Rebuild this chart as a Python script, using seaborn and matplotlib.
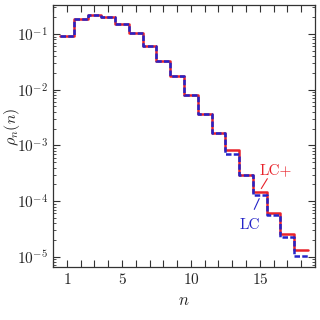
import numpy as np
import matplotlib
matplotlib.use("Agg")
import matplotlib.pyplot as plt
import matplotlib.ticker as mticker
import seaborn as sns

# occupation probabilities rho_n(n)
n = np.arange(1, 19)
lc_plus = [0.093, 0.186, 0.216, 0.199, 0.151, 0.103, 0.060, 0.033, 0.0174,
           0.0082, 0.00367, 0.00168, 0.00082, 0.00030, 1.47e-4, 6.2e-5,
           2.6e-5, 1.3e-5]
lc = [0.093, 0.186, 0.216, 0.199, 0.151, 0.103, 0.060, 0.033, 0.0174,
      0.0082, 0.00367, 0.00168, 0.00070, 0.00030, 1.27e-4, 5.6e-5,
      2.3e-5, 1.02e-5]

sns.set_style("ticks")
plt.rcParams['font.family'] = ['cmr10', 'DejaVu Serif']
plt.rcParams['mathtext.fontset'] = 'cm'
plt.rcParams['axes.formatter.use_mathtext'] = True
plt.rcParams['axes.unicode_minus'] = False

red = '#e8232b'
blue = '#2424c8'

fig = plt.figure(figsize=(3.2, 3.2), dpi=100)
ax = fig.add_axes([0.166, 0.166, 0.818, 0.818])

sns.histplot(x=n, weights=lc_plus, discrete=True, element='step', fill=False,
             color=red, lw=1.8, ax=ax)
sns.histplot(x=n, weights=lc, discrete=True, element='step', fill=False,
             color=blue, lw=1.8, ax=ax)
# dashed style for LC
lines = ax.get_lines()
lines[1].set_linestyle((0, (2.2, 0.9)))

ax.set_yscale('log')
ax.set_xlim(0, 19)
ax.set_ylim(6.6e-6, 0.33)

ax.xaxis.set_major_locator(mticker.FixedLocator([1, 5, 10, 15]))
ax.xaxis.set_minor_locator(mticker.MultipleLocator(1))
ax.yaxis.set_major_locator(mticker.LogLocator(base=10, numticks=10))
ax.yaxis.set_minor_locator(mticker.LogLocator(base=10, subs=np.arange(2, 10), numticks=20))
ax.yaxis.set_minor_formatter(mticker.NullFormatter())

ax.tick_params(which='both', direction='in', top=True, right=True, color='#333333', labelsize=11)
ax.tick_params(which='major', length=5, width=0.8)
ax.tick_params(axis='x', which='minor', length=5, width=0.8)
ax.tick_params(axis='y', which='minor', length=2.5, width=0.6)
for s in ax.spines.values():
    s.set_color('#333333')
    s.set_linewidth(0.9)

ax.set_xlabel(r'$n$', fontsize=12)
ax.set_ylabel(r'$\rho_n(n)$', fontsize=11.5)
ax.yaxis.set_label_coords(-0.12, 0.535)

ax.text(16.13, 3.6e-4, 'LC+', color=red, fontsize=11, ha='center', va='center')
ax.annotate('', xy=(15.11, 1.68e-4), xytext=(15.55, 2.53e-4),
            arrowprops=dict(arrowstyle='-', color=red, lw=0.8, shrinkA=0, shrinkB=0))
ax.text(14.31, 3.64e-5, 'LC', color=blue, fontsize=11, ha='center', va='center')
ax.annotate('', xy=(14.96, 1.11e-4), xytext=(14.6, 7.1e-5),
            arrowprops=dict(arrowstyle='-', color=blue, lw=0.8, shrinkA=0, shrinkB=0))

fig.savefig('out.png', dpi=100)
